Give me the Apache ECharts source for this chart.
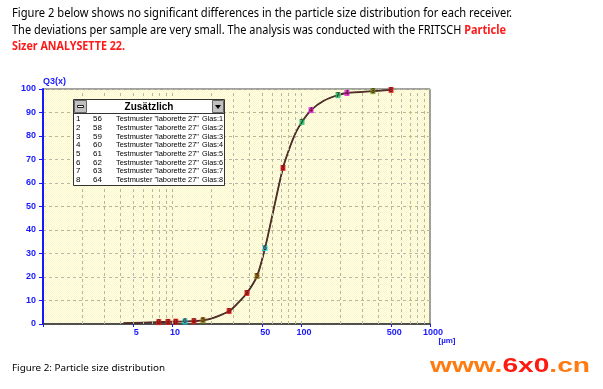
<!DOCTYPE html>
<html>
<head>
<meta charset="utf-8">
<script src="https://cdn.jsdelivr.net/npm/echarts@6/dist/echarts.min.js"></script>
<style>
html,body{margin:0;padding:0;background:#fff;}
#c{width:603px;height:389px;}
</style>
</head>
<body>
<div id="c"></div>
<script>
// ---- data ----
const sizes = [4.2, 7.9, 9.3, 10.7, 12.6, 14.8, 17.4, 21.5, 27.7, 32.5, 38.1, 45.6, 52.6, 59.6, 72.5, 83.6, 92, 101.8, 119.6, 150, 193.6, 227, 361, 499];
const q3 = [0.4, 0.8, 0.9, 1.0, 1.1, 1.2, 1.5, 2.8, 5.5, 9.0, 13.2, 20.4, 32.3, 45.6, 66.4, 76.5, 82, 86, 91, 95, 97.4, 98.3, 99.1, 99.6];
const markSizes = [7.9, 9.3, 10.7, 12.6, 14.8, 17.4, 27.7, 38.1, 45.6, 52.6, 72.5, 101.8, 119.6, 193.6, 227, 361, 499];
const markQ3 = [0.8, 0.9, 1.0, 1.1, 1.2, 1.5, 5.5, 13.2, 20.4, 32.3, 66.4, 86, 91, 97.4, 98.3, 99.1, 99.6];
const markSample = [8, 8, 8, 6, 8, 5, 8, 8, 5, 6, 8, 7, 4, 7, 4, 3, 8];
const xTickLabels = [5, 10, 50, 100, 500, 1000];
const xGridValues = [2,3,4,5,6,7,8,9,10,20,30,40,50,60,70,80,90,100,200,300,400,500,600,700,800,900];
const legendIds = [1, 2, 3, 4, 5, 6, 7, 8];
const legendCodes = [56, 58, 59, 60, 61, 62, 63, 64];
const legendNames = ['Testmuster "laborette 27"','Testmuster "laborette 27"','Testmuster "laborette 27"','Testmuster "laborette 27"','Testmuster "laborette 27"','Testmuster "laborette 27"','Testmuster "laborette 27"','Testmuster "laborette 27"'];
const legendGlas = ['Glas:1','Glas:2','Glas:3','Glas:4','Glas:5','Glas:6','Glas:7','Glas:8'];
const headerLine1 = 'Figure 2 below shows no significant differences in the particle size distribution for each receiver.';
const headerLine2a = 'The deviations per sample are very small. The analysis was conducted with the FRITSCH ';
const headerLine2b = 'Particle';
const headerLine3 = 'Sizer ANALYSETTE 22.';
const caption = 'Figure 2: Particle size distribution';

const sampleColors = {1:'#2040e0',2:'#909090',3:'#6a9a20',4:'#e020e0',5:'#8a7a10',6:'#10d0e0',7:'#10c070',8:'#e81818'};

// ---- helpers ----
const mctx = document.createElement('canvas').getContext('2d');
function tw(text, font){ mctx.font = font; return mctx.measureText(text).width; }

// background pattern
const pc = document.createElement('canvas'); pc.width = 2; pc.height = 2;
const pctx = pc.getContext('2d');
pctx.fillStyle = '#ffffff'; pctx.fillRect(0,0,2,2);
pctx.fillStyle = '#fcf8b4'; pctx.fillRect(0,0,1,1); pctx.fillRect(1,1,1,1);

const hdrFont = '12.5px "Noto Sans"';
const hdrBold = 'bold 12.5px "Noto Sans"';
const s1 = 500 / tw(headerLine1, hdrFont);
const s2 = 494 / (tw(headerLine2a, hdrFont) + tw(headerLine2b, hdrBold));
const s3 = 113 / tw(headerLine3, hdrBold);
const capFont = '9.5px "Noto Sans"';
const sc = 153 / tw(caption, capFont);

const rowFont = '8px "Liberation Sans"';
const graphics = [];
function T(x, y, text, font, fill, scaleX, align, extra){
  const o = {type:'text', x:x, y:y, scaleX: scaleX||1, silent:true, z:100,
    style:Object.assign({text:text, font:font, fill:fill, textAlign:align||'left', align:align||'left', textVerticalAlign:'middle', verticalAlign:'middle'}, extra||{})};
  graphics.push(o);
}
T(12, 13, headerLine1, hdrFont, '#000', s1);
graphics.push({type:'text', x:12, y:30, scaleX:s2, silent:true, z:100,
  style:{text:headerLine2a + '{r|' + headerLine2b + '}', font:hdrFont, fill:'#000', textVerticalAlign:'middle', verticalAlign:'middle',
    rich:{r:{fill:'#ff1a1a', color:'#ff1a1a', fontWeight:'bold', fontSize:12.5, fontFamily:'Noto Sans'}}}});
T(12, 46, headerLine3, hdrBold, '#ff1a1a', s3);
T(12, 368, caption, capFont, '#000', sc);

// watermark
const wmFont = 'bold 21px "Liberation Sans"';
const wmw = tw('www.6x0.cn', wmFont);
graphics.push({type:'text', x:430, y:366, scaleX:160/wmw, silent:true, z:100,
  style:{text:'{o|www.}{r|6x0}{o|.cn}', font:wmFont, textVerticalAlign:'middle', verticalAlign:'middle',
   rich:{o:{fill:'#ff7a10', color:'#ff7a10', fontWeight:'bold', fontSize:21, fontFamily:'Liberation Sans'},
         r:{fill:'#ff1a10', color:'#ff1a10', fontWeight:'bold', fontSize:21, fontFamily:'Liberation Sans'}}}});

// unit label
T(447, 341, '[µm]', 'bold 8px "Liberation Sans"', '#1818ff', 1, 'center');

// legend box
graphics.push({type:'rect', silent:true, z:90, shape:{x:73.5,y:99.5,width:151,height:86}, style:{fill:'#ffffff', stroke:'#333', lineWidth:1}});
graphics.push({type:'line', silent:true, z:91, shape:{x1:73.5,y1:113.5,x2:224.5,y2:113.5}, style:{stroke:'#333', lineWidth:1}});
graphics.push({type:'rect', silent:true, z:91, shape:{x:74.5,y:100.5,width:12,height:12}, style:{fill:'#c0c0c0', stroke:'#666', lineWidth:1}});
graphics.push({type:'rect', silent:true, z:92, shape:{x:77.5,y:105.5,width:6,height:2}, style:{fill:'#fff', stroke:'#222', lineWidth:1}});
graphics.push({type:'rect', silent:true, z:91, shape:{x:212.5,y:100.5,width:11,height:12}, style:{fill:'#c0c0c0', stroke:'#666', lineWidth:1}});
graphics.push({type:'polygon', silent:true, z:92, shape:{points:[[215,105],[221,105],[218,109]]}, style:{fill:'#000'}});
T(149, 107, 'Zusätzlich', 'bold 10px "Liberation Sans"', '#000', 1, 'center');
const nameW = tw(legendNames[0], rowFont);
const glasW = tw(legendGlas[0], rowFont);
for (let i = 0; i < legendIds.length; i++) {
  const y = 119 + i * 8.7;
  T(76, y, String(legendIds[i]), rowFont, '#000', 1);
  T(93, y, String(legendCodes[i]), rowFont, '#000', 1);
  T(116, y, legendNames[i], rowFont, '#000', 83 / nameW);
  T(202, y, legendGlas[i], rowFont, '#000', 21 / glasW);
}

const chart = echarts.init(document.getElementById('c'), null, {renderer:'canvas'});
const option = {
  animation:false,
  backgroundColor:'#ffffff',
  grid:{left:43, right:173, top:89, bottom:65, show:true,
    backgroundColor:{image:pc, repeat:'repeat'}, borderColor:'#444', borderWidth:1},
  xAxis:{type:'log', logBase:10, min:1, max:1000,
    axisLine:{show:true, onZero:false, lineStyle:{color:'#333', width:1.5}},
    axisTick:{show:true, customValues:xTickLabels.concat([1]), length:3, lineStyle:{color:'#1818ff'}},
    axisLabel:{show:true, customValues:xTickLabels, margin:4, color:'#1818ff', fontWeight:'bold', fontSize:9, fontFamily:'Liberation Sans', padding:[0,0,0,6],
      formatter:function(v){ return String(Math.round(v)); }},
    splitLine:{show:false}, minorTick:{show:false}, minorSplitLine:{show:false}},
  yAxis:{type:'value', min:0, max:100, interval:10,
    name:'Q3(x)', nameLocation:'end', nameGap:3,
    nameTextStyle:{color:'#1818ff', fontWeight:'bold', fontSize:9, fontFamily:'Liberation Sans', align:'left'},
    axisLine:{show:true, lineStyle:{color:'#1818ff', width:2}},
    axisTick:{show:true, length:4, lineStyle:{color:'#1818ff'}},
    axisLabel:{margin:7, color:'#1818ff', fontWeight:'bold', fontSize:9, fontFamily:'Liberation Sans', padding:[0,0,6,0]},
    splitLine:{show:true, lineStyle:{color:'#b8b8a0', type:[3,3], width:1}}},
  graphic:{elements:graphics},
  series:[
    {type:'line', data:[[sizes[0], q3[0]]], symbol:'none', z:1, silent:true, lineStyle:{width:0},
     markLine:{silent:true, symbol:'none', label:{show:false},
       lineStyle:{color:'#b8b8a0', type:[3,3], width:1},
       data:xGridValues.map(function(v){ return {xAxis:v}; })}},
    {type:'line', data:sizes.map(function(s,i){ return [s, q3[i]]; }), symbol:'none', smooth:0.3, z:3,
     lineStyle:{color:'#2e2224', width:1.8}},
    {type:'line', data:sizes.map(function(s,i){ return [s, q3[i]]; }), symbol:'none', smooth:0.3, z:4,
     lineStyle:{color:'#8a3a2a', width:0.6}},
    {type:'scatter', z:5, symbol:'rect', symbolSize:[5,6],
     data:markSizes.map(function(s,i){ return {value:[s, markQ3[i]], itemStyle:{color:sampleColors[markSample[i]], opacity:0.85},
       label:{show:true, formatter:String(markSample[i]), position:'inside', color:'#5a1010', fontSize:7, fontWeight:'bold', fontFamily:'Liberation Sans'}}; })}
  ]
};
chart.setOption(option);
</script>
</body>
</html>
